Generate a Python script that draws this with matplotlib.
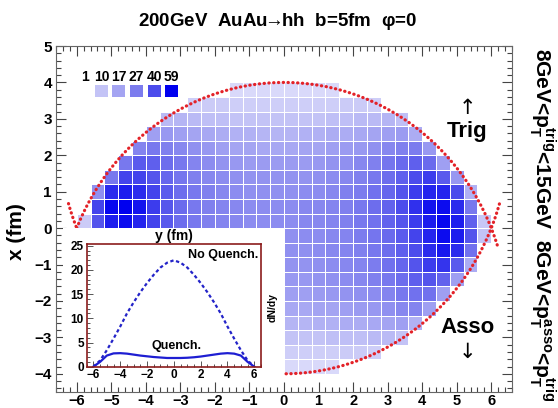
import numpy as np
import matplotlib
matplotlib.use("Agg")
import matplotlib.pyplot as plt
from matplotlib.colors import LinearSegmentedColormap, Normalize
from matplotlib.patches import Rectangle
from matplotlib.ticker import MultipleLocator

plt.rcParams['font.family'] = ['Liberation Sans', 'DejaVu Sans']
plt.rcParams['font.weight'] = 'bold'
plt.rcParams['mathtext.fontset'] = 'custom'
plt.rcParams['mathtext.rm'] = 'Liberation Sans:bold'
plt.rcParams['mathtext.bf'] = 'Liberation Sans:bold'
plt.rcParams['mathtext.it'] = 'Liberation Sans:bold'

# transverse plane binning (fm)
y_edges = np.arange(-6.4, 6.41, 0.4)
y_edges_half = np.arange(0.0, 6.41, 0.4)
x_edges_up = np.arange(0.0, 4.01, 0.4)
x_edges_dn = np.arange(-4.0, 0.01, 0.4)

# trigger density, rows from x=0 upward, 32 bins in y
trig = [
    [0, 8, 38, 52, 56, 50, 42, 36, 31, 28, 26, 25, 24, 23, 23, 23, 23, 24, 24, 25, 26, 28, 30, 34, 38, 44, 52, 57, 52, 35, 9, 0],
    [0, 0, 42, 57, 59, 54, 44, 37, 32, 28, 26, 25, 24, 23, 23, 23, 23, 24, 24, 25, 26, 28, 31, 34, 40, 47, 54, 56, 48, 28, 0, 0],
    [0, 0, 22, 48, 52, 48, 42, 36, 31, 28, 26, 24, 23, 22, 22, 22, 22, 23, 23, 24, 26, 27, 30, 33, 38, 44, 50, 50, 40, 14, 0, 0],
    [0, 0, 0, 28, 42, 42, 38, 33, 29, 26, 24, 23, 22, 21, 21, 21, 21, 21, 22, 23, 24, 26, 28, 31, 35, 40, 44, 36, 20, 0, 0, 0],
    [0, 0, 0, 0, 28, 36, 35, 31, 28, 25, 23, 21, 20, 19, 19, 19, 19, 19, 20, 21, 22, 24, 26, 29, 32, 35, 32, 18, 0, 0, 0, 0],
    [0, 0, 0, 0, 0, 25, 28, 26, 24, 22, 20, 18, 17, 17, 16, 16, 16, 17, 17, 18, 19, 20, 22, 24, 26, 27, 20, 0, 0, 0, 0, 0],
    [0, 0, 0, 0, 0, 0, 18, 20, 18, 17, 16, 15, 14, 14, 13, 13, 13, 14, 14, 15, 15, 16, 17, 18, 19, 15, 0, 0, 0, 0, 0, 0],
    [0, 0, 0, 0, 0, 0, 0, 12, 13, 12, 11, 11, 10, 10, 10, 10, 10, 10, 10, 11, 11, 12, 12, 13, 11, 0, 0, 0, 0, 0, 0, 0],
    [0, 0, 0, 0, 0, 0, 0, 0, 0, 7, 8, 8, 7, 7, 7, 7, 7, 7, 7, 7, 8, 8, 7, 0, 0, 0, 0, 0, 0, 0, 0, 0],
    [0, 0, 0, 0, 0, 0, 0, 0, 0, 0, 0, 0, 4, 4, 4, 4, 4, 4, 4, 4, 0, 0, 0, 0, 0, 0, 0, 0, 0, 0, 0, 0],
]

# associated density, rows from x=-4 up to x=0, 16 bins in y>0
asso = [
    [4, 4, 4, 4, 0, 0, 0, 0, 0, 0, 0, 0, 0, 0, 0, 0],
    [7, 7, 7, 7, 8, 8, 7, 0, 0, 0, 0, 0, 0, 0, 0, 0],
    [10, 10, 10, 11, 11, 11, 12, 12, 10, 0, 0, 0, 0, 0, 0, 0],
    [13, 13, 14, 14, 15, 15, 16, 17, 18, 14, 0, 0, 0, 0, 0, 0],
    [16, 16, 17, 17, 18, 19, 20, 22, 24, 25, 18, 0, 0, 0, 0, 0],
    [18, 18, 19, 20, 21, 22, 23, 25, 28, 30, 30, 18, 0, 0, 0, 0],
    [20, 20, 21, 22, 23, 24, 26, 28, 31, 35, 38, 34, 18, 0, 0, 0],
    [21, 21, 22, 23, 24, 25, 27, 30, 33, 38, 44, 46, 36, 15, 0, 0],
    [22, 22, 23, 24, 25, 26, 28, 31, 35, 40, 48, 53, 48, 30, 0, 0],
    [22, 23, 23, 24, 25, 27, 29, 32, 36, 42, 50, 56, 52, 38, 10, 0],
]

levels = [10, 17, 27, 40, 59]
level_colors = ['#c3c3f6', '#a3a3f2', '#7c7cee', '#4c4cec', '#0000ef']

# dN/dy profiles in the inset
y_prof = [-6.0, -5.5, -5.0, -4.5, -4.0, -3.5, -3.0, -2.5, -2.0, -1.5, -1.0, -0.5, 0.0,
          0.5, 1.0, 1.5, 2.0, 2.5, 3.0, 3.5, 4.0, 4.5, 5.0, 5.5, 6.0]
no_quench = [0.0, 1.3, 3.4, 5.8, 8.3, 11.0, 13.3, 15.4, 17.3, 19.0, 20.5, 21.5, 22.0,
             21.5, 20.5, 19.0, 17.3, 15.4, 13.3, 11.0, 8.3, 5.8, 3.4, 1.3, 0.0]
quench = [0.0, 1.0, 2.3, 2.75, 2.8, 2.7, 2.5, 2.3, 2.15, 2.0, 1.9, 1.8, 1.8,
          1.8, 1.85, 1.95, 2.1, 2.3, 2.5, 2.7, 2.8, 2.7, 2.3, 1.0, 0.0]

# nuclear radius and impact parameter (fm)
R = 6.5
b = 5.0

cmap = LinearSegmentedColormap.from_list(
    'wb', [(0.0, '#e8e8fd')] + [(v / 59.0, c) for v, c in zip(levels, level_colors)])
norm = Normalize(0, 59)

fig = plt.figure(figsize=(5.58, 4.08), dpi=100)
ax = fig.add_axes([56 / 558, 16 / 408, 456 / 558, 346 / 408])
ax.set_zorder(0)

trig_m = np.ma.masked_equal(np.array(trig, dtype=float), 0)
asso_m = np.ma.masked_equal(np.array(asso, dtype=float), 0)
ax.pcolormesh(y_edges, x_edges_up, trig_m, cmap=cmap, norm=norm,
              edgecolors='white', linewidth=0.6)
ax.pcolormesh(y_edges_half, x_edges_dn, asso_m, cmap=cmap, norm=norm,
              edgecolors='white', linewidth=0.6)

# almond edges: two nuclei centred at x = -b/2 and x = +b/2
th_c = np.arccos(b / 2 / R)
th_up = np.linspace(-th_c, th_c + 0.09, 200)
th_dn = np.linspace(-th_c - 0.11, th_c + 0.11, 200)
dot = dict(color='#e32228', lw=2.3, linestyle=(0, (0.1, 1.4)), dash_capstyle='round')
ax.plot(R * np.sin(th_up), -b / 2 + R * np.cos(th_up), **dot)
ax.plot(R * np.sin(th_dn), b / 2 - R * np.cos(th_dn), **dot)

ax.set_xlim(-6.6, 6.6)
ax.set_ylim(-4.5, 5.0)
ax.xaxis.set_major_locator(MultipleLocator(1))
ax.xaxis.set_minor_locator(MultipleLocator(0.2))
ax.yaxis.set_major_locator(MultipleLocator(1))
ax.yaxis.set_minor_locator(MultipleLocator(0.2))
ax.tick_params(which='both', direction='in', top=True, right=True, color='#444444', width=0.8)
ax.tick_params(which='major', length=7, labelsize=11, pad=3)
ax.tick_params(axis='x', which='major', labelsize=10.5, pad=1.5)
ax.tick_params(which='minor', length=3.5)
for lab in ax.get_xticklabels() + ax.get_yticklabels():
    lab.set_fontweight('bold')
for s in ax.spines.values():
    s.set_color('#666666')
    s.set_linewidth(0.8)

# colour key
for i, v in enumerate(levels):
    x0 = 0.0855 + i * 0.0384
    ax.add_patch(Rectangle((x0, 0.853), 0.0285, 0.035, transform=ax.transAxes,
                           facecolor=cmap(norm(v)), edgecolor='none'))
    ax.text(x0 + 0.0143, 0.911, str(v), transform=ax.transAxes, ha='center',
            va='center', fontsize=10, fontweight='bold')
ax.text(0.064, 0.911, '1', transform=ax.transAxes, ha='center', va='center',
        fontsize=10, fontweight='bold')

ax.text(5.3, 2.65, 'Trig', ha='center', va='center', fontsize=16, fontweight='bold')
ax.text(5.3, 3.3, '↑', ha='center', va='center', fontsize=15, fontweight='normal',
        family='DejaVu Sans')
ax.text(5.3, -2.74, 'Asso', ha='center', va='center', fontsize=16, fontweight='bold')
ax.text(5.3, -3.4, '↓', ha='center', va='center', fontsize=15, fontweight='normal',
        family='DejaVu Sans')

# white pad holding the inset
pad = fig.add_axes([63 / 558, 27 / 408, 221 / 558, 153 / 408])
pad.set_zorder(1)
pad.set_facecolor('white')
pad.set_xticks([])
pad.set_yticks([])
for s in pad.spines.values():
    s.set_visible(False)

ins = fig.add_axes([86.7 / 558, 41.3 / 408, 174.3 / 558, 122.4 / 408])
ins.set_zorder(2)
ins.plot(y_prof, no_quench, color='#2323c8', lw=1.6, linestyle=(0, (1.5, 1.2)))
ins.plot(y_prof, quench, color='#1e1ed2', lw=1.6)
ins.set_xlim(-6.5, 6.5)
ins.set_ylim(0, 25.3)
ins.xaxis.set_major_locator(MultipleLocator(2))
ins.xaxis.set_minor_locator(MultipleLocator(0.5))
ins.yaxis.set_major_locator(MultipleLocator(5))
ins.yaxis.set_minor_locator(MultipleLocator(1))
ins.tick_params(which='both', direction='in', color='#555555', width=0.7)
ins.tick_params(which='major', length=4, labelsize=8.5, pad=2)
ins.tick_params(which='minor', length=2)
for lab in ins.get_xticklabels() + ins.get_yticklabels():
    lab.set_fontweight('bold')
for s in ins.spines.values():
    s.set_color('#8b1c1c')
    s.set_linewidth(1.2)
ins.set_title('y (fm)', fontsize=10, fontweight='bold', pad=3)
ins.text(6.3, 23.0, 'No Quench.', ha='right', va='center', fontsize=9, fontweight='bold')
ins.text(0.2, 4.2, 'Quench.', ha='center', va='center', fontsize=9, fontweight='bold')
fig.text(273 / 558, (408 - 307) / 408, 'dN/dy', rotation=90, ha='center', va='center',
         fontsize=7.5, fontweight='bold')

fig.text(277 / 558, (408 - 21) / 408, r'200GeV  AuAu$\!\!\rightarrow\!\!$hh  b=5fm  φ=0',
         ha='center', va='center', fontsize=13.5, fontweight='bold')
fig.text(17 / 558, (408 - 232) / 408, 'x (fm)', rotation=90, ha='center', va='center',
         fontsize=15, fontweight='bold')
fig.text(542 / 558, (408 - 48) / 408,
         r'8GeV<p$_{\mathrm{T}}^{\mathrm{trig}}$<15GeV  8GeV<p$_{\mathrm{T}}^{\mathrm{asso}}$<p$_{\mathrm{T}}^{\mathrm{trig}}$',
         rotation=-90, ha='center', va='top', fontsize=15, fontweight='bold')

fig.savefig('out.png', dpi=100)
